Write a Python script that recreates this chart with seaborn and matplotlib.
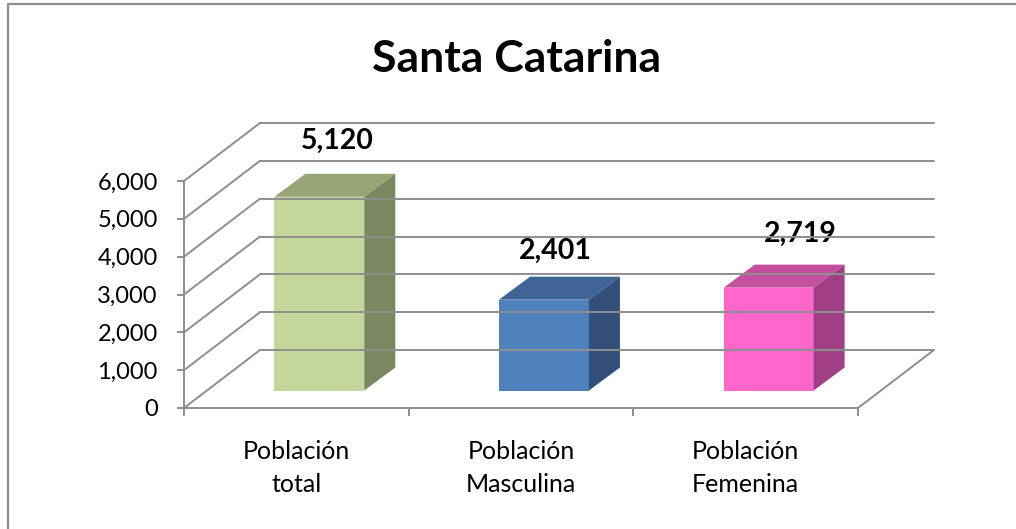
import matplotlib
matplotlib.use("Agg")
import matplotlib.pyplot as plt
from matplotlib.patches import Polygon
from matplotlib.transforms import Affine2D
import pandas as pd
import seaborn as sns

# --- Data ---
categories = ["Población\ntotal", "Población\nMasculina", "Población\nFemenina"]
values = [5120, 2401, 2719]
value_labels = ["5,120", "2,401", "2,719"]
y_ticks = [0, 1000, 2000, 3000, 4000, 5000, 6000]

front_colors = ["#C3D69B", "#4F81BD", "#FF66CC"]
top_colors = ["#98A376", "#3E6596", "#C44F9F"]
side_colors = ["#7C8660", "#314F78", "#A03F85"]

# --- Configuration ---
W, H = 1016, 529
LINE = "#8E8E8E"
WALL_DX, WALL_DY = 76, 58      # depth of the chart box, pixels
BAR_DX, BAR_DY = 23, 17.5      # where the bars start in the depth
DEPTH_DX, DEPTH_DY = 31, 23    # depth of a bar
LABEL_OFFSETS = [(41, 73), (34, 66), (55, 71)]  # the labels sit by hand in the original

sns.set_theme(style="white")
plt.rcParams["font.family"] = ["Lato", "DejaVu Sans"]

fig = plt.figure(figsize=(W / 100, H / 100), dpi=100)
ax = fig.add_axes([184 / W, (H - 408) / H, 674 / W, 227 / H])
ax.patch.set_visible(False)

df = pd.DataFrame({"cat": categories, "val": values})
sns.barplot(data=df, x="cat", y="val", hue="cat", palette=front_colors,
            legend=False, width=0.4, saturation=1, ax=ax, zorder=3)
ax.set_xlim(-0.5, 2.5)
ax.set_ylim(0, 6000)
ax.set_xlabel("")
ax.set_ylabel("")


def project(x, v, dx=0, dy=0):
    px, py = ax.transData.transform((x, v))
    return px + dx, py + dy


def line(p, q):
    fig.add_artist(plt.Line2D([p[0], q[0]], [p[1], q[1]], transform=None,
                              color=LINE, lw=1.4, zorder=1))


# walls and floor
for t in y_ticks:
    back_l = project(-0.5, t, WALL_DX, WALL_DY)
    line(project(-0.5, t), back_l)
    line(back_l, project(2.5, t, WALL_DX, WALL_DY))
line(project(2.5, 0), project(2.5, 0, WALL_DX, WALL_DY))

# bars pushed back into the box, with their top and side faces
shift = Affine2D().translate(BAR_DX, BAR_DY)
for i, bar in enumerate(ax.patches[:len(values)]):
    x0, x1 = bar.get_x(), bar.get_x() + bar.get_width()
    v = bar.get_height()
    bar.set_transform(ax.transData + shift)
    bar.set_clip_on(False)
    bar.set_linewidth(0)
    dx1, dy1 = BAR_DX + DEPTH_DX, BAR_DY + DEPTH_DY
    top = [project(x0, v, BAR_DX, BAR_DY), project(x1, v, BAR_DX, BAR_DY),
           project(x1, v, dx1, dy1), project(x0, v, dx1, dy1)]
    side = [project(x1, 0, BAR_DX, BAR_DY), project(x1, v, BAR_DX, BAR_DY),
            project(x1, v, dx1, dy1), project(x1, 0, dx1, dy1)]
    ax.add_artist(Polygon(top, closed=True, transform=None, fc=top_colors[i], ec="none", zorder=3, clip_on=False))
    ax.add_artist(Polygon(side, closed=True, transform=None, fc=side_colors[i], ec="none", zorder=3, clip_on=False))
    lx, ly = project((x0 + x1) / 2, v, *LABEL_OFFSETS[i])
    ax.annotate(value_labels[i], (lx, ly), xycoords="figure pixels", ha="center", va="center",
                fontsize=20.5, fontweight="bold", color="black", zorder=5)

# axes
sns.despine(ax=ax, top=True, right=True)
for s in ["left", "bottom"]:
    ax.spines[s].set_color(LINE)
    ax.spines[s].set_linewidth(1.4)
ax.set_yticks(y_ticks)
ax.set_yticklabels([f"{t:,}" for t in y_ticks])
ax.set_xticks([0, 1, 2])
ax.set_xticklabels(categories, linespacing=1.53)
ax.set_xticks([-0.5, 0.5, 1.5, 2.5], minor=True)
ax.tick_params(axis="y", length=5, width=1.4, color=LINE, labelsize=17, pad=13.8, left=True, labelcolor="black")
ax.tick_params(axis="x", which="major", length=0, labelsize=18, pad=23, labelcolor="black")
ax.tick_params(axis="x", which="minor", length=6, width=1.4, color=LINE, bottom=True)

fig.text(517 / W, 1 - 59 / H, "Santa Catarina", ha="center", va="center",
         fontsize=32, fontweight="bold", color="black")

# chart frame: only the top and left edges are in the crop
fig.add_artist(plt.Line2D([8 / W, 8 / W, 1], [0, 1 - 4 / H, 1 - 4 / H],
                          transform=fig.transFigure, color=LINE, lw=1.6))

fig.savefig("out.png", dpi=100)
